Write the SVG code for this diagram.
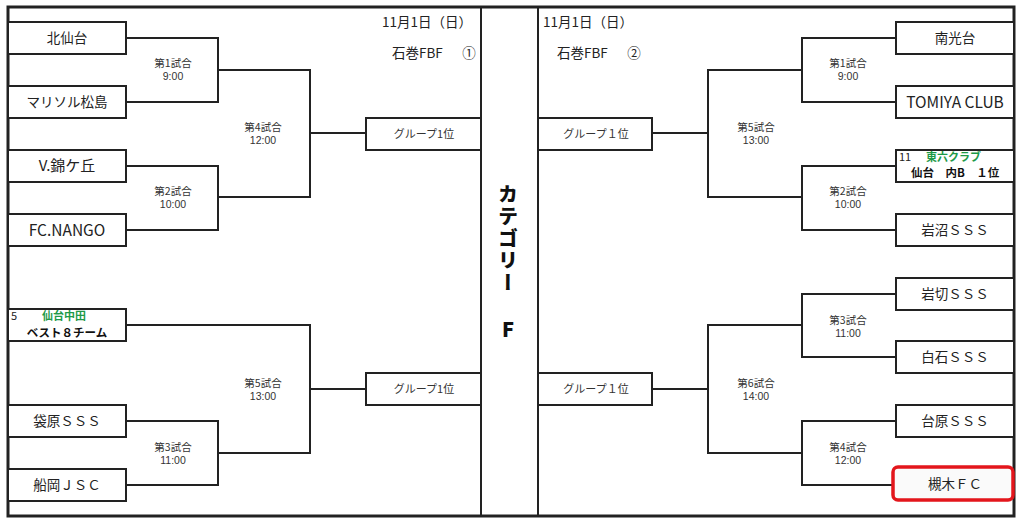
<svg xmlns="http://www.w3.org/2000/svg" width="1024" height="524" viewBox="0 0 1024 524">
<style>
.box{fill:#fff;stroke:#222;stroke-width:2}
.team{font-family:"Noto Sans CJK JP","Liberation Sans",sans-serif;font-size:13.5px;fill:#222;text-anchor:middle}
.lat{font-size:15.5px}
.lbl{font-family:"Noto Sans CJK JP","Liberation Sans",sans-serif;font-size:10.5px;fill:#333;text-anchor:middle}
.tm{font-family:"Liberation Sans",sans-serif}
.grp{font-family:"Noto Sans CJK JP","Liberation Sans",sans-serif;font-size:11px;fill:#333;text-anchor:middle}
.hdr{font-family:"Noto Sans CJK JP","Liberation Sans",sans-serif;font-size:13.5px;fill:#222}
.small{font-family:"Noto Sans CJK JP","Liberation Sans",sans-serif;font-size:11px;fill:#222}
.green{font-weight:700;fill:#1e9a48}
.bold{font-family:"Noto Sans CJK JP","Liberation Sans",sans-serif;font-size:11.5px;font-weight:700;fill:#111}
.cat{font-family:"Noto Sans CJK JP",sans-serif;font-size:20px;font-weight:900;fill:#111}
.line{fill:none;stroke:#222;stroke-width:2}
</style>
<rect width="1024" height="524" fill="#fff"/>

<g id="connectors" class="line">
<path d="M126,38 H218 V102 H126"/>
<path d="M218,70 H310 V197 H218"/>
<path d="M126,166 H218 V230 H126"/>
<path d="M310,133 H366"/>
<path d="M126,325 H310 V453 H218"/>
<path d="M126,421 H218 V485 H126"/>
<path d="M310,389 H366"/>
<path d="M896,38 H802 V102 H896"/>
<path d="M802,70 H708 V197 H802"/>
<path d="M896,166 H802 V230 H896"/>
<path d="M708,133 H652"/>
<path d="M896,294 H802 V357 H896"/>
<path d="M802,325 H708 V453 H802"/>
<path d="M896,421 H802 V485 H893"/>
<path d="M708,389 H652"/>
</g>

<g id="frame">
<rect x="8" y="7" width="1006" height="509" fill="none" stroke="#222" stroke-width="3"/>
<line x1="481" y1="7" x2="481" y2="516" stroke="#222" stroke-width="2"/>
<line x1="538" y1="7" x2="538" y2="516" stroke="#222" stroke-width="2"/>
</g>

<g id="headers">
<text class="hdr" x="382" y="27">11月1日（日）</text>
<text class="hdr" x="392" y="58" xml:space="preserve">石巻FBF　  ①</text>
<text class="hdr" x="543" y="27">11月1日（日）</text>
<text class="hdr" x="557" y="58" xml:space="preserve">石巻FBF　  ②</text>
</g>

<g id="category">
<text class="cat" x="508" y="184" style="writing-mode:vertical-rl" letter-spacing="2">カテゴリー</text>
<text class="cat" x="508" y="337" text-anchor="middle">F</text>
</g>

<g id="L1"><rect class="box" x="8" y="22" width="118" height="32"/><text class="team" x="67" y="43">北仙台</text></g>
<g id="L2"><rect class="box" x="8" y="86" width="118" height="32"/><text class="team" x="67" y="107">マリソル松島</text></g>
<g id="L3"><rect class="box" x="8" y="150" width="118" height="32"/><text class="team" x="67" y="171" style="font-size:15px">V.錦ケ丘</text></g>
<g id="L4"><rect class="box" x="8" y="214" width="118" height="32"/><text class="team lat" x="67" y="236">FC.NANGO</text></g>
<g id="L5"><rect class="box" x="8" y="309" width="118" height="32"/><text class="small" x="11" y="320">5<tspan class="green" x="42">仙台中田</tspan></text><text class="bold" x="67" y="337" text-anchor="middle">ベスト８チーム</text></g>
<g id="L6"><rect class="box" x="8" y="405" width="118" height="32"/><text class="team" x="67" y="426">袋原ＳＳＳ</text></g>
<g id="L7"><rect class="box" x="8" y="469" width="118" height="32"/><text class="team" x="67" y="490">船岡ＪＳＣ</text></g>

<g id="R1"><rect class="box" x="896" y="22" width="118" height="32"/><text class="team" x="955" y="43">南光台</text></g>
<g id="R2"><rect class="box" x="896" y="86" width="118" height="32"/><text class="team lat" x="955" y="108">TOMIYA CLUB</text></g>
<g id="R3"><rect class="box" x="896" y="150" width="118" height="32"/><text class="small" x="899" y="161">11<tspan class="green" x="926">東六クラブ</tspan></text><text class="bold" x="911" y="177" xml:space="preserve">仙台　内B　１位</text></g>
<g id="R4"><rect class="box" x="896" y="214" width="118" height="32"/><text class="team" x="955" y="235">岩沼ＳＳＳ</text></g>
<g id="R5"><rect class="box" x="896" y="278" width="118" height="32"/><text class="team" x="955" y="299">岩切ＳＳＳ</text></g>
<g id="R6"><rect class="box" x="896" y="341" width="118" height="32"/><text class="team" x="955" y="362">白石ＳＳＳ</text></g>
<g id="R7"><rect class="box" x="896" y="405" width="118" height="32"/><text class="team" x="955" y="426">台原ＳＳＳ</text></g>
<g id="R8"><rect x="893" y="467" width="120" height="33" rx="5" fill="#fafafa" stroke="#e3161c" stroke-width="3.5"/><text class="team" x="955" y="489">槻木ＦＣ</text></g>

<g id="G1"><rect class="box" x="366" y="118" width="115" height="32"/><text class="grp" x="424" y="138">グループ1位</text></g>
<g id="G2"><rect class="box" x="366" y="373" width="115" height="32"/><text class="grp" x="424" y="393">グループ1位</text></g>
<g id="G3"><rect class="box" x="538" y="118" width="114" height="32"/><text class="grp" x="596" y="138">グループ１位</text></g>
<g id="G4"><rect class="box" x="538" y="373" width="114" height="32"/><text class="grp" x="596" y="393">グループ１位</text></g>

<g id="labels">
<text class="lbl" x="173" y="67">第1試合</text><text class="lbl tm" x="173" y="80">9:00</text>
<text class="lbl" x="263" y="131">第4試合</text><text class="lbl tm" x="263" y="144">12:00</text>
<text class="lbl" x="173" y="195">第2試合</text><text class="lbl tm" x="173" y="208">10:00</text>
<text class="lbl" x="263" y="387">第5試合</text><text class="lbl tm" x="263" y="400">13:00</text>
<text class="lbl" x="173" y="451">第3試合</text><text class="lbl tm" x="173" y="464">11:00</text>
<text class="lbl" x="848" y="67">第1試合</text><text class="lbl tm" x="848" y="80">9:00</text>
<text class="lbl" x="756" y="131">第5試合</text><text class="lbl tm" x="756" y="144">13:00</text>
<text class="lbl" x="848" y="195">第2試合</text><text class="lbl tm" x="848" y="208">10:00</text>
<text class="lbl" x="848" y="324">第3試合</text><text class="lbl tm" x="848" y="337">11:00</text>
<text class="lbl" x="756" y="387">第6試合</text><text class="lbl tm" x="756" y="400">14:00</text>
<text class="lbl" x="848" y="451">第4試合</text><text class="lbl tm" x="848" y="464">12:00</text>
</g>
</svg>
